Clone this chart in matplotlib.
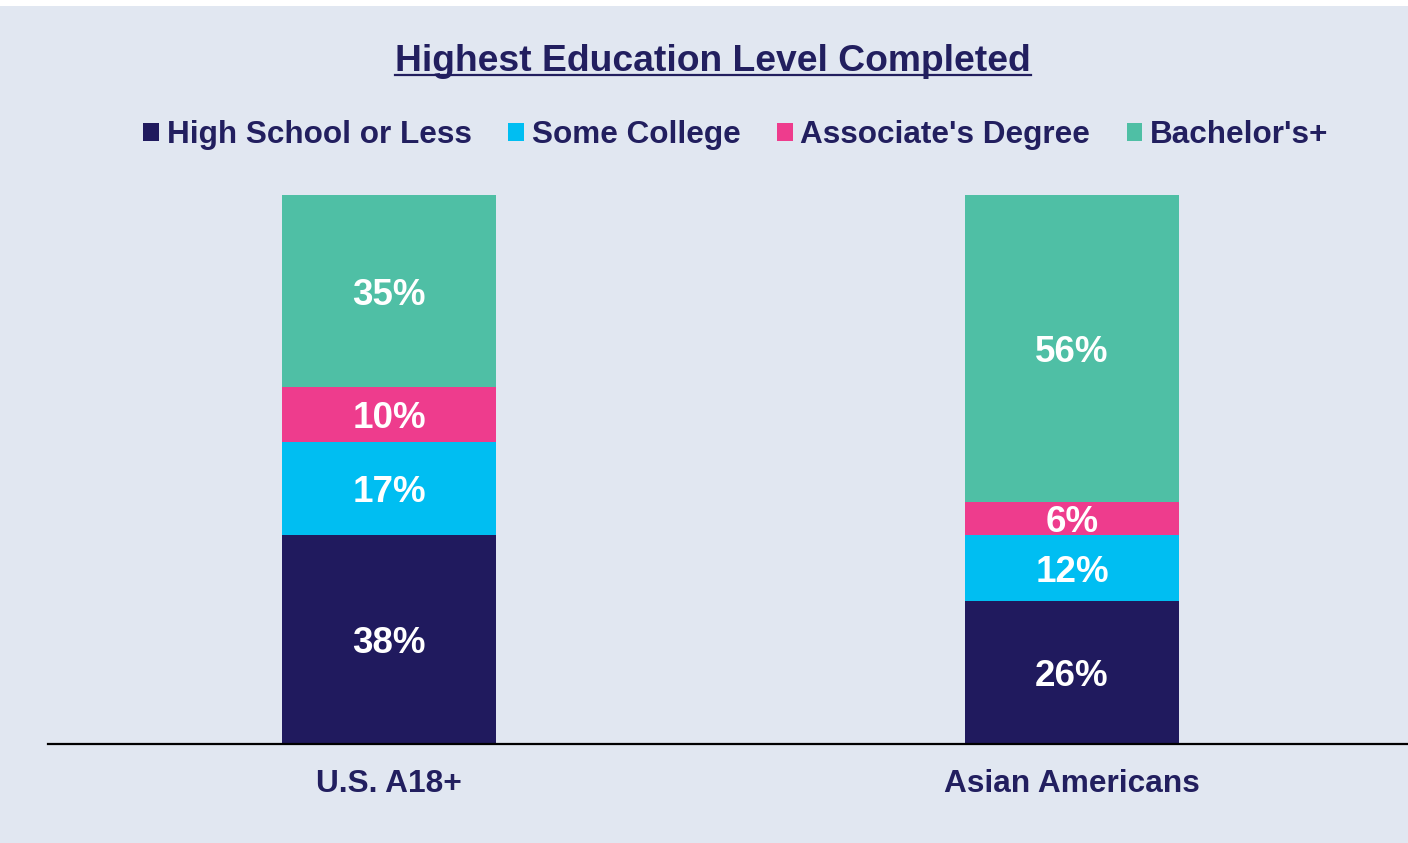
import matplotlib.pyplot as plt
from matplotlib.patches import Rectangle
from matplotlib.lines import Line2D
from matplotlib.font_manager import FontProperties

# data
groups = ['U.S. A18+', 'Asian Americans']
levels = ['High School or Less', 'Some College', "Associate's Degree", "Bachelor's+"]
shares = {
    'High School or Less': [38, 26],
    'Some College': [17, 12],
    "Associate's Degree": [10, 6],
    "Bachelor's+": [35, 56],
}
colors = ['#201A5E', '#00BEF2', '#EE3C8D', '#4FBFA5']
navy = '#221F5F'
bg = '#E1E7F1'
FONT = 'Liberation Sans'

W, H = 1408, 843
fig = plt.figure(figsize=(W / 100, H / 100), dpi=100, facecolor='white')
fig.patches.append(Rectangle((0, 0), 1, 837 / H, transform=fig.transFigure,
                             facecolor=bg, edgecolor='none', zorder=-10))

ax = fig.add_axes([48 / W, 99 / H, 1360 / W, 549 / H])
ax.set_facecolor('none')

x = range(len(groups))
bottom = [0] * len(groups)
for lvl, c in zip(levels, colors):
    vals = shares[lvl]
    ax.bar(x, vals, bottom=bottom, width=0.313, color=c, label=lvl)
    for i, v in enumerate(vals):
        ax.text(i, bottom[i] + v / 2, f'{v}%', ha='center', va='center_baseline',
                color='white', fontsize=26.5, fontweight='bold', family=FONT)
    bottom = [b + v for b, v in zip(bottom, vals)]

ax.set_xlim(-0.4993, 1.492)
ax.set_ylim(0, 100)
for s in ['top', 'right', 'left']:
    ax.spines[s].set_visible(False)
ax.spines['bottom'].set_linewidth(1.6)
ax.spines['bottom'].set_color('black')
ax.set_yticks([])
ax.set_xticks(list(x))
ax.set_xticklabels(groups, fontsize=22.8, fontweight='bold', color=navy, family=FONT)
ax.tick_params(axis='x', length=0, pad=18)

# title with underline
title = fig.text(713 / W, 1 - 71 / H, 'Highest Education Level Completed',
                 ha='center', va='baseline', fontsize=26.8, fontweight='bold',
                 color=navy, family=FONT)
fig.canvas.draw()
bb = title.get_window_extent().transformed(fig.transFigure.inverted())
fig.add_artist(Line2D([bb.x0, bb.x1], [1 - 74.5 / H] * 2, transform=fig.transFigure,
                      color=navy, lw=1.6))

handles, labels = ax.get_legend_handles_labels()
leg = fig.legend(handles, labels, loc='center', bbox_to_anchor=(736 / W, 1 - 135 / H),
                 ncol=4, frameon=False, handlelength=0.5, handleheight=0.5,
                 handletextpad=0.25, columnspacing=1.15,
                 prop=FontProperties(family=FONT, weight='bold', size=22.7))
for t in leg.get_texts():
    t.set_color(navy)

fig.savefig('out.png', dpi=100, facecolor=fig.get_facecolor())
